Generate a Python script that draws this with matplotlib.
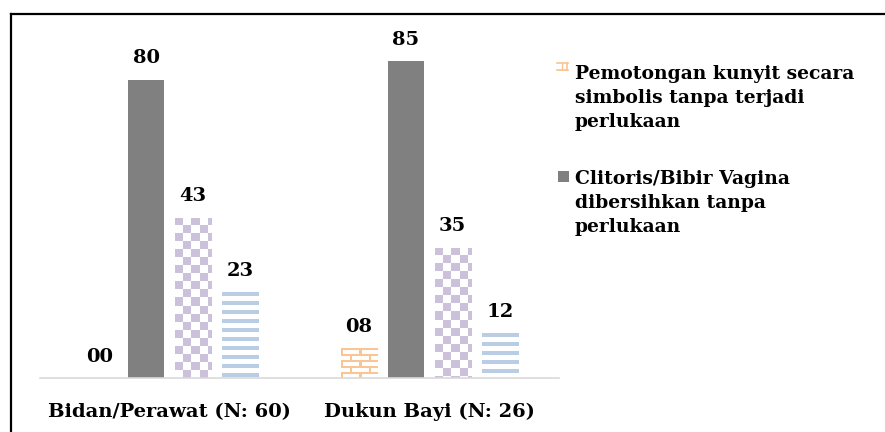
import matplotlib.pyplot as plt
import matplotlib.colors as mc
import numpy as np
from matplotlib.patches import Rectangle
from matplotlib.lines import Line2D

# data
categories = ['Bidan/Perawat (N: 60)', 'Dukun Bayi (N: 26)']
kunyit = [0, 8]        # Pemotongan kunyit secara simbolis tanpa terjadi perlukaan
clitoris = [80, 85]    # Clitoris/Bibir Vagina dibersihkan tanpa perlukaan
seri3 = [43, 35]
seri4 = [23, 12]
legend_labels = [['Pemotongan kunyit secara', 'simbolis tanpa terjadi', 'perlukaan'],
                 ['Clitoris/Bibir Vagina', 'dibersihkan tanpa', 'perlukaan']]

plt.rcParams['font.family'] = ['DejaVu Serif']
plt.rcParams['font.weight'] = 'bold'

W, H = 885, 432
fig = plt.figure(figsize=(W / 100, H / 100), dpi=100)
ax_left, ax_right, ax_bottom, ax_top = 40, 559, 378, 30
ax = fig.add_axes([ax_left / W, 1 - ax_bottom / H, (ax_right - ax_left) / W, (ax_bottom - ax_top) / H])

ymax = 93.4
px_x = (ax_right - ax_left) / 2.0
px_y = (ax_bottom - ax_top) / ymax

orange = '#FAC592'
purple = '#CCC1DA'
blue = '#B9CDE5'
gray = '#808080'


def checker(h, w):
    i, j = np.indices((h, w))
    m = ((i // 8 + j // 8) % 2) == 0
    img = np.ones((h, w, 4))
    img[m] = mc.to_rgba(purple)
    return img


def stripes(h, w):
    i, j = np.indices((h, w))
    m = (i % 9) < 4
    img = np.ones((h, w, 4))
    img[m] = mc.to_rgba(blue)
    return img


def bricks(h, w):
    i, j = np.indices((h, w))
    row = i // 6
    m = (i % 6) < 2
    off = np.where(row % 2 == 0, 0, 9)
    m |= ((j + off) % 18) < 2
    img = np.ones((h, w, 4))
    img[m] = mc.to_rgba(orange)
    return img


width = 0.14
step = 0.181
x = np.arange(len(categories))


def pattern_bars(xpos, vals, maker):
    bars = ax.bar(xpos, vals, width, facecolor='none', edgecolor='none')
    for b, v in zip(bars, vals):
        if v <= 0:
            continue
        x0 = b.get_x()
        hp = max(int(round(v * px_y)), 1)
        wp = max(int(round(width * px_x)), 1)
        im = ax.imshow(maker(hp, wp), extent=(x0, x0 + width, 0, v),
                       aspect='auto', interpolation='nearest', zorder=2)
        im.set_clip_path(b)
    return bars


b1 = pattern_bars(x - 1.5 * step, kunyit, bricks)
b2 = ax.bar(x - 0.5 * step, clitoris, width, color=gray, zorder=2)
b3 = pattern_bars(x + 0.5 * step, seri3, checker)
b4 = pattern_bars(x + 1.5 * step, seri4, stripes)

for bars, vals in [(b1, kunyit), (b2, clitoris), (b3, seri3), (b4, seri4)]:
    for b, v in zip(bars, vals):
        ax.annotate(f'{v:02d}', (b.get_x() + width / 2, v), xytext=(0, 9),
                    textcoords='offset points', ha='center', va='bottom',
                    fontsize=14, fontweight='bold')

ax.set_xlim(-0.5, 1.5)
ax.set_ylim(0, ymax)
ax.set_xticks(x)
ax.set_xticklabels(categories, fontsize=14, fontweight='bold')
ax.tick_params(axis='x', length=0, pad=18)
ax.set_yticks([])
for s in ['top', 'right', 'left']:
    ax.spines[s].set_visible(False)
ax.spines['bottom'].set_color('#D9D9D9')
ax.spines['bottom'].set_linewidth(1.2)
ax.set_facecolor('none')


# legend drawn by hand: marker next to the first line of each entry
def fx(px):
    return px / W


def fy(px):
    return 1 - px / H


entry_baseline = [79, 184]
line_gap = 24
for k, lines in enumerate(legend_labels):
    for n, txt in enumerate(lines):
        fig.text(fx(575), fy(entry_baseline[k] + n * line_gap), txt, fontsize=13.5,
                 fontweight='bold', va='baseline', ha='left')

# brick icon for the first entry
icon = Rectangle((fx(557), fy(71)), fx(11), 8 / H, transform=fig.transFigure,
                 facecolor='white', edgecolor=orange, linewidth=0, hatch='++')
fig.add_artist(icon)
fig.add_artist(Line2D([fx(557), fx(568)], [fy(63), fy(63)], color=orange, lw=1.2,
                      transform=fig.transFigure))
fig.add_artist(Line2D([fx(557), fx(568)], [fy(70), fy(70)], color=orange, lw=1.2,
                      transform=fig.transFigure))
fig.add_artist(Line2D([fx(567), fx(567)], [fy(63), fy(70)], color=orange, lw=1.2,
                      transform=fig.transFigure))
# gray square for the second entry
fig.add_artist(Rectangle((fx(558), fy(182)), fx(11), 11 / H, transform=fig.transFigure,
                         facecolor=gray, edgecolor='none'))

# black frame (top and left only, picture is cropped)
fig.add_artist(Line2D([10.5 / W, 10.5 / W], [0, 1 - 13.5 / H], color='black', lw=1.6,
                      transform=fig.transFigure))
fig.add_artist(Line2D([10.5 / W, 1], [1 - 13.5 / H, 1 - 13.5 / H], color='black', lw=1.6,
                      transform=fig.transFigure))

fig.savefig('out.png', dpi=100)
